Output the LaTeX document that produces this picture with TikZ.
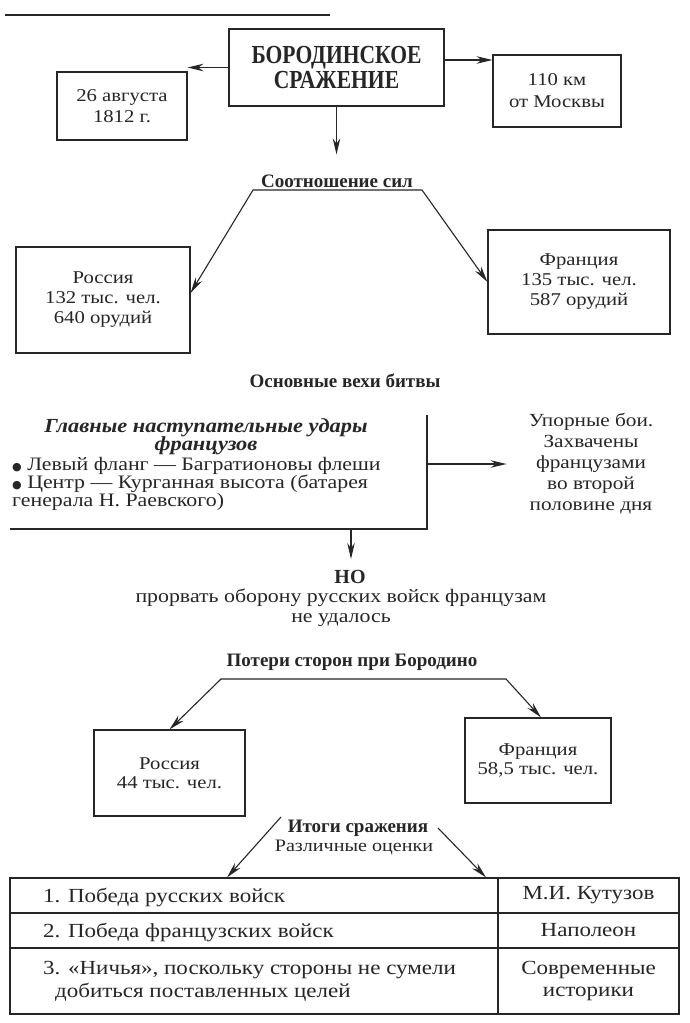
\documentclass[tikz,border=0pt]{standalone}
\usepackage{fontspec}
\setmainfont{Liberation Serif}[FakeStretch=1.15]
\newfontfamily\bff{Liberation Serif}
\newfontfamily\bfi[FakeStretch=1.12]{Liberation Serif}
\newfontfamily\cb[FakeStretch=0.83]{Liberation Serif}
\newfontfamily\dejavu{DejaVu Sans}
\usetikzlibrary{arrows.meta}
\definecolor{ink}{gray}{0.15}
\tikzset{
  inkline/.style={draw=ink, line width=1.1pt},
  arr/.style={inkline, -{Stealth[length=16pt,width=7.5pt]}},
  arrboth/.style={inkline, {Stealth[length=16pt,width=7.5pt]}-{Stealth[length=16pt,width=7.5pt]}},
  txt/.style={inner sep=0pt, align=center, text=ink, font=\fontsize{18}{20}\selectfont},
  box/.style={txt, inkline, rectangle},
  btxt/.style={txt, font=\bff\fontsize{19}{20}\selectfont\bfseries},
  cell/.style={inkline, rectangle, inner sep=0pt},
  ltxt/.style={txt, anchor=west, align=left},
  tabtxt/.style={font=\fontsize{20}{22}\selectfont},
}
\newcommand{\bul}{{\dejavu\fontsize{11}{11}\selectfont ●}}
\begin{document}
\lineskiplimit=-100pt
\begin{tikzpicture}[x=1pt,y=-1pt]
\useasboundingbox[fill=white] (0,0) rectangle (689,1023);

% header rule
\coordinate (h1) at (5,15);
\coordinate (h2) at (330,15);
\draw[inkline] (h1) -- (h2);

% top row
\node[box, minimum width=215pt, minimum height=77pt, font=\cb\fontsize{26}{25}\selectfont\bfseries] (main) at (336.5,67.5) {БОРОДИНСКОЕ\\СРАЖЕНИЕ};
\node[box, minimum width=130pt, minimum height=68pt, font=\fontsize{18}{21}\selectfont] (date) at (122,106) {26 августа\\1812 г.};
\node[box, minimum width=128pt, minimum height=72pt, font=\fontsize{18}{22}\selectfont] (km) at (557,91) {110 км\\от Москвы};
\draw[arr] (main.west) -- (main.west -| date.east);
\draw[arr] ([yshift=7.5pt]main.east) -- ([yshift=7.5pt]main.east -| km.west);

% forces
\node[btxt] (sootn) at (337,181) {Соотношение сил};
\draw[arr, shorten >=20pt] (main.south) -- (main.south |- sootn.north);
\node[box, minimum width=174pt, minimum height=106pt, font=\fontsize{18}{20}\selectfont] (rus1) at (103,300) {Россия\\132 тыс. чел.\\640 орудий};
\node[box, minimum width=182pt, minimum height=104pt, font=\fontsize{18}{20}\selectfont] (fra1) at (579,282) {Франция\\135 тыс. чел.\\587 орудий};
\coordinate (sl) at (253,190);
\coordinate (sr) at (422,190);
\draw[arrboth] ([yshift=7pt]rus1.east) -- (sl) -- (sr) -- (fra1.west);

% milestones
\node[btxt] (vehi) at (345,381) {Основные вехи битвы};
\coordinate (ft) at (427,415);
\coordinate (fb) at (427,529);
\coordinate (fl) at (10,529);
\draw[inkline] (ft) -- (fb) -- (fl);
\node[txt, font=\bfi\fontsize{20}{18}\selectfont\bfseries\itshape] (udary) at (206,437) {Главные наступательные удары\\французов};
\node[ltxt, font=\fontsize{19}{18}\selectfont] (bullets) at (12,484) {\bul~Левый фланг — Багратионовы флеши\\\bul~Центр — Курганная высота (батарея\\генерала Н. Раевского)};
\node[txt, font=\fontsize{18.5}{21}\selectfont] (upor) at (591,464) {Упорные бои.\\Захвачены\\французами\\во второй\\половине дня};
\draw[arr, shorten >=22pt] (ft |- upor.west) -- (upor.west);

% but
\node[btxt, font=\bff\fontsize{20}{20}\selectfont\bfseries] (no) at (350,577) {НО};
\coordinate (fd) at (351,529);
\draw[arr] (fd) -- (fd |- 0,559);
\node[txt, font=\fontsize{19}{20}\selectfont] (fail) at (341,608) {прорвать оборону русских войск французам\\не удалось};

% losses
\node[btxt] (poteri) at (352,662) {Потери сторон при Бородино};
\coordinate (pl) at (221,679);
\coordinate (pr) at (506,679);
\node[box, minimum width=151pt, minimum height=86pt, font=\fontsize{18}{19}\selectfont] (rus2) at (169.5,773) {Россия\\44 тыс. чел.};
\node[box, minimum width=146pt, minimum height=85pt, font=\fontsize{18}{19}\selectfont] (fra2) at (538,760.5) {Франция\\58,5 тыс. чел.};
\draw[arrboth] (rus2.north) -- (pl) -- (pr) -- ([xshift=3pt]fra2.north);

% results
\node[btxt] (itogi) at (358,828) {Итоги сражения};
\node[txt, font=\fontsize{17.5}{20}\selectfont] (ocenki) at (354,847) {Различные оценки};
\node[cell, minimum width=488pt, minimum height=35pt] (c11) at (254,895.5) {};
\node[cell, minimum width=181pt, minimum height=35pt] (c12) at (588.5,895.5) {};
\node[cell, minimum width=488pt, minimum height=35pt] (c21) at (254,930.5) {};
\node[cell, minimum width=181pt, minimum height=35pt] (c22) at (588.5,930.5) {};
\node[cell, minimum width=488pt, minimum height=66pt] (c31) at (254,981) {};
\node[cell, minimum width=181pt, minimum height=66pt] (c32) at (588.5,981) {};
\coordinate (ia) at (281,817);
\coordinate (ib) at (438,828);
\draw[arr] (ia) -- (c11.north -| 227,0);
\draw[arr] (ib) -- (c11.north -| 486,0);

\node[ltxt, tabtxt] (t1) at (43,897) {1. Победа русских войск};
\node[ltxt, tabtxt] (t2) at (43,932) {2. Победа французских войск};
\node[ltxt, tabtxt] (t3a) at (43,970) {3. «Ничья», поскольку стороны не сумели};
\node[ltxt, tabtxt] (t3b) at (55,992) {добиться поставленных целей};
\node[txt, tabtxt] (r1) at (c12) {М.И. Кутузов};
\node[txt, tabtxt] (r2) at (c22) {Наполеон};
\node[txt, tabtxt] (r3) at (c32) {Современные\\историки};
\end{tikzpicture}
\end{document}
